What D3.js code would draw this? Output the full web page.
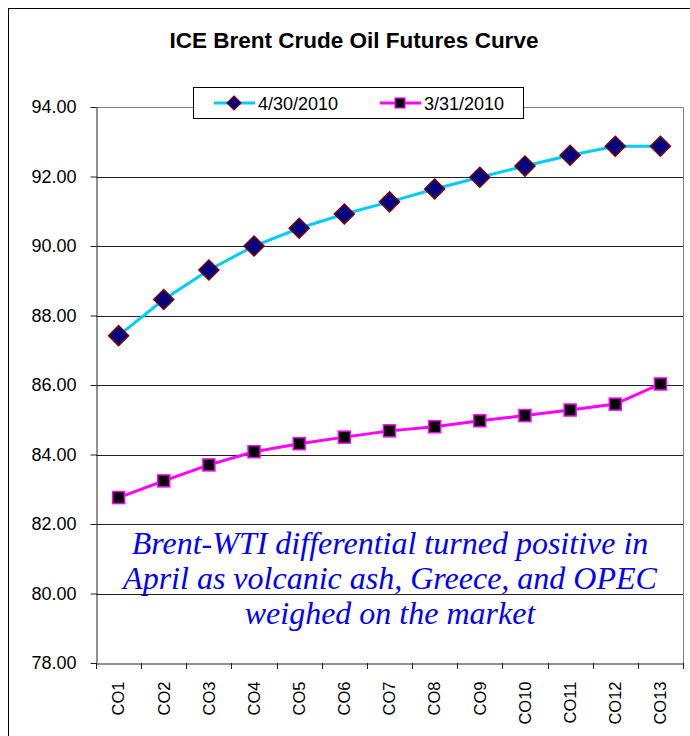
<!DOCTYPE html>
<html>
<head>
<meta charset="utf-8">
<script src="https://cdn.jsdelivr.net/npm/d3@7"></script>
<style>
  body { margin: 0; background: #fff; }
  text { font-family: Arial, "Liberation Sans", sans-serif; }
</style>
</head>
<body>
<div id="chart-area"></div>
<script>
// ICE Brent futures curve
var contracts = ["CO1","CO2","CO3","CO4","CO5","CO6","CO7","CO8","CO9","CO10","CO11","CO12","CO13"];
var apr30 = [87.42, 88.46, 89.31, 90.00, 90.51, 90.92, 91.27, 91.64, 91.98, 92.30, 92.61, 92.87, 92.87];
var mar31 = [82.76, 83.24, 83.70, 84.08, 84.31, 84.50, 84.68, 84.80, 84.97, 85.12, 85.28, 85.45, 86.03];
var yTicks = [78, 80, 82, 84, 86, 88, 90, 92, 94];
var seriesNames = ["4/30/2010", "3/31/2010"];
var note = ["Brent-WTI differential turned positive in",
            "April as volcanic ash, Greece, and OPEC",
            "weighed on the market"];

var margin = { left: 96, top: 107, right: 7, bottom: 73 };
var width = 683 - margin.left,
    height = 663 - margin.top;

var svg = d3.select("#chart-area").append("svg")
    .attr("width", 690)
    .attr("height", 736);

// outer chart border
svg.append("rect")
    .attr("x", 8.5).attr("y", 8.5)
    .attr("width", 700).attr("height", 760)
    .attr("fill", "#fff")
    .attr("stroke", "#000");

svg.append("text")
    .attr("x", 354)
    .attr("y", 48)
    .attr("text-anchor", "middle")
    .attr("font-size", "22.5px")
    .attr("font-weight", "bold")
    .text("ICE Brent Crude Oil Futures Curve");

var g = svg.append("g").attr("transform", "translate(" + margin.left + ", " + margin.top + ")");

var x = d3.scaleBand().domain(contracts).range([0, width]);
var y = d3.scaleLinear().domain([78, 94]).range([height, 0]);

// gridlines
g.selectAll(".grid").data(yTicks.filter(function(d) { return d > 78 && d < 94; }))
    .enter().append("line")
    .attr("x1", 0).attr("x2", width)
    .attr("y1", function(d) { return Math.round(y(d)) + 0.5; })
    .attr("y2", function(d) { return Math.round(y(d)) + 0.5; })
    .attr("stroke", "#222");

// plot border top/right
g.append("path")
    .attr("d", "M0," + (Math.round(y(94)) + 0.5) + "H" + (width + 0.5) + "V" + height)
    .attr("fill", "none")
    .attr("stroke", "#808080");

// y axis
var yAxis = g.append("g")
    .attr("transform", "translate(0.5,0)")
    .call(d3.axisLeft(y).tickValues(yTicks).tickFormat(d3.format(".2f")).tickSize(6).tickSizeOuter(0));
yAxis.selectAll("text").attr("font-size", "18px").attr("fill", "#000").attr("x", -20).attr("font-family", "Arial, 'Liberation Sans', sans-serif");
yAxis.selectAll("line,path").attr("stroke", "#222");

// x axis: ticks at band edges
var xAxis = g.append("g")
    .attr("transform", "translate(0," + (height + 0.5) + ")")
    .call(d3.axisBottom(x).tickSize(0).tickSizeOuter(0));
xAxis.select(".domain").attr("stroke", "#222");
xAxis.selectAll("text")
    .attr("font-size", "16.5px")
    .attr("fill", "#000")
    .attr("font-family", "Arial, 'Liberation Sans', sans-serif")
    .attr("transform", "rotate(-90)")
    .attr("text-anchor", "end")
    .attr("x", -18)
    .attr("y", 0)
    .attr("dy", "0.35em");
g.selectAll(".xtick").data(d3.range(contracts.length + 1))
    .enter().append("line")
    .attr("x1", function(i) { return Math.round(i * x.step()) + 0.5; })
    .attr("x2", function(i) { return Math.round(i * x.step()) + 0.5; })
    .attr("y1", height).attr("y2", height + 6)
    .attr("stroke", "#222");

// annotation
g.selectAll(".note").data(note).enter().append("text")
    .attr("x", 390 - margin.left)
    .attr("y", function(d, i) { return 554 - margin.top + i * 35; })
    .attr("text-anchor", "middle")
    .attr("font-size", "32px")
    .attr("font-style", "italic")
    .style("font-family", "'Times New Roman', 'Liberation Serif', serif")
    .attr("fill", "#0000ff")
    .text(function(d) { return d; });

var line = d3.line()
    .x(function(d, i) { return x(contracts[i]) + x.bandwidth() / 2; })
    .y(function(d) { return y(d); });

g.append("path").datum(apr30)
    .attr("d", line).attr("fill", "none")
    .attr("stroke", "#00ccff").attr("stroke-width", 3);
g.append("path").datum(mar31)
    .attr("d", line).attr("fill", "none")
    .attr("stroke", "#ff00ff").attr("stroke-width", 3);

var diamond = "M0,-10L10,0L0,10L-10,0Z";

g.selectAll(".dia").data(apr30).enter().append("path")
    .attr("transform", function(d, i) { return "translate(" + (x(contracts[i]) + x.bandwidth() / 2) + "," + y(d) + ")"; })
    .attr("d", diamond)
    .attr("fill", "#000080")
    .attr("stroke", "#800000")
    .attr("stroke-width", 1.5);

g.selectAll(".sq").data(mar31).enter().append("rect")
    .attr("x", function(d, i) { return x(contracts[i]) + x.bandwidth() / 2 - 6; })
    .attr("y", function(d) { return y(d) - 6; })
    .attr("width", 12).attr("height", 12)
    .attr("fill", "#000")
    .attr("stroke", "#ff00ff")
    .attr("stroke-width", 1.5);

// legend
var lg = svg.append("g");
lg.append("rect")
    .attr("x", 193.5).attr("y", 87.5)
    .attr("width", 330).attr("height", 31)
    .attr("fill", "#fff").attr("stroke", "#000");

var legendItems = [
    { x: 214, name: seriesNames[0], color: "#00ccff" },
    { x: 380, name: seriesNames[1], color: "#ff00ff" }
];
legendItems.forEach(function(d, i) {
    lg.append("line")
        .attr("x1", d.x).attr("x2", d.x + 41)
        .attr("y1", 103).attr("y2", 103)
        .attr("stroke", d.color).attr("stroke-width", 3);
    if (i === 0) {
        lg.append("path")
            .attr("transform", "translate(" + (d.x + 20) + ",103)")
            .attr("d", "M0,-7L7,0L0,7L-7,0Z")
            .attr("fill", "#000080").attr("stroke", "#800000").attr("stroke-width", 1.2);
    } else {
        lg.append("rect")
            .attr("x", d.x + 20 - 5).attr("y", 98)
            .attr("width", 10).attr("height", 10)
            .attr("fill", "#000").attr("stroke", "#ff00ff").attr("stroke-width", 1.2);
    }
    lg.append("text")
        .attr("x", d.x + 44)
        .attr("y", 109.5)
        .attr("font-size", "18px")
        .text(d.name);
});
</script>
</body>
</html>
